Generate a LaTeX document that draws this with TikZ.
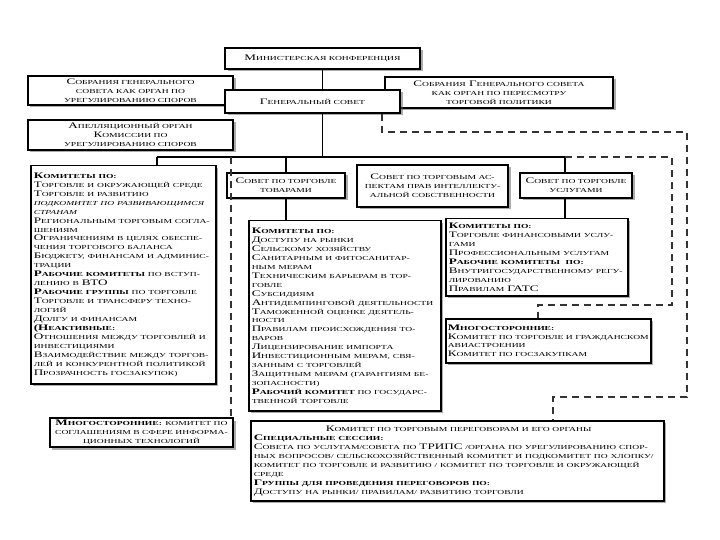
\documentclass[tikz,border=0pt]{standalone}
\usepackage{fontspec}
\setmainfont{Liberation Serif}[FakeStretch=1.55]
\usetikzlibrary{positioning, calc, shadows}

% fake small caps for the slide text
\newcommand{\sct}[1]{{\fontsize{6.2}{9}\selectfont\MakeUppercase{#1}}}

\tikzset{
  wto/.style={draw, line width=1.5bp, fill=white, inner sep=2bp,
    font=\fontsize{8.5}{9}\selectfont,
    drop shadow={shadow xshift=2.5bp, shadow yshift=-2.5bp, fill=black!65}},
  orgbox/.style={wto, align=center},
  listbox/.style={wto, anchor=north west, align=left, inner xsep=3bp},
  link/.style={line width=1.9bp},
  dashlink/.style={draw=black!80, line width=1.7bp, dash pattern=on 7bp off 5bp},
}

\begin{document}
\begin{tikzpicture}[x=1bp, y=-1bp]
\useasboundingbox (0,0) rectangle (720,540);

% top level
\node[orgbox, minimum width=195bp, minimum height=21bp] (conf) at (322.5,58.5)
  {М\sct{инистерская конференция}};
\node[orgbox, minimum width=205bp, minimum height=29bp, inner sep=1bp] (dsb) at (130.5,90.5)
  {С\sct{обрания генерального}\\\sct{совета как орган по}\\\sct{урегулированию споров}};
\node[orgbox, minimum width=205bp, minimum height=30bp, inner sep=1bp] (appel) at (130.5,135)
  {А\sct{пелляционный орган}\\К\sct{омиссии по}\\\sct{урегулированию споров}};
\node[orgbox, minimum width=228bp, minimum height=31bp, inner sep=1bp] (tprb) at (499,92.5)
  {С\sct{обрания} Г\sct{енерального совета}\\\sct{как орган по пересмотру}\\\sct{торговой политики}};
\node[orgbox, minimum width=175bp, minimum height=23bp] (gc) at (312.5,101.5)
  {Г\sct{енеральный совет}};

% councils
\node[orgbox, minimum width=118bp, minimum height=25bp, inner sep=1bp] (goods) at (286,185.5)
  {С\sct{овет по торговле}\\\sct{товарами}};
\node[orgbox, minimum width=151bp, minimum height=42bp, inner sep=1bp] (trips) at (432.5,186)
  {С\sct{овет по торговым ас-}\\\sct{пектам прав интеллекту-}\\\sct{альной собственности}};
\node[orgbox, minimum width=112bp, minimum height=25bp, inner sep=1bp] (services) at (576,185.5)
  {С\sct{овет по торговле}\\\sct{услугами}};

% committees
\node[listbox, text width=179bp, minimum height=218bp] (comGen) at (30,165)
  {{\bfseries К\sct{омитеты по:}}\\
   Т\sct{орговле и окружающей среде}\\
   Т\sct{орговле и развитию}\\
   {\itshape\sct{подкомитет по развивающимся}}\\
   {\itshape\sct{странам}}\\
   Р\sct{егиональным торговым согла-}\\
   \sct{шениям}\\
   О\sct{граничениям в целях обеспе-}\\
   \sct{чения торгового баланса}\\
   Б\sct{юджету, финансам и админис-}\\
   \sct{трации}\\
   {\bfseries Р\sct{абочие комитеты}} \sct{по вступ-}\\
   \sct{лению в} ВТО\\
   {\bfseries Р\sct{абочие группы}} \sct{по торговле}\\
   Т\sct{орговле и трансферу техно-}\\
   \sct{логий}\\
   Д\sct{олгу и финансам}\\
   {\bfseries (Н\sct{еактивные:}}\\
   О\sct{тношения между торговлей и}\\
   \sct{инвестициями}\\
   В\sct{заимодействие между торгов-}\\
   \sct{лей и конкурентной политикой}\\
   П\sct{розрачность госзакупок)}};

\node[listbox, text width=186bp, minimum height=190bp] (comGoods) at (248,220)
  {{\bfseries К\sct{омитеты по:}}\\
   Д\sct{оступу на рынки}\\
   С\sct{ельскому хозяйству}\\
   С\sct{анитарным и фитосанитар-}\\
   \sct{ным мерам}\\
   Т\sct{ехническим барьерам в тор-}\\
   \sct{говле}\\
   С\sct{убсидиям}\\
   А\sct{нтидемпинговой деятельности}\\
   Т\sct{аможенной оценке деятель-}\\
   \sct{ности}\\
   П\sct{равилам происхождения то-}\\
   \sct{варов}\\
   Л\sct{ицензирование импорта}\\
   И\sct{нвестиционным мерам, свя-}\\
   \sct{занным с торговлей}\\
   З\sct{ащитным мерам (гарантиям бе-}\\
   \sct{зопасности)}\\
   {\bfseries Р\sct{абочий комитет}} \sct{по государс-}\\
   \sct{твенной торговле}};

\node[listbox, text width=176bp, minimum height=77bp] (comServ) at (445,218)
  {{\bfseries К\sct{омитеты по:}}\\
   Т\sct{орговле финансовыми услу-}\\
   \sct{гами}\\
   П\sct{рофессиональным услугам}\\
   {\bfseries Р\sct{абочие комитеты}\ \ \sct{по:}}\\
   В\sct{нутригосударственному регу-}\\
   \sct{лированию}\\
   П\sct{равилам} ГАТС};

\node[listbox, minimum width=205bp, minimum height=44bp, inner xsep=1bp] (multiR) at (445,318)
  {{\bfseries М\sct{ногосторонние:}}\\
   К\sct{омитет по торговле и гражданском}\\
   \sct{авиастроении}\\
   К\sct{омитет по госзакупкам}};

\node[orgbox, minimum width=183bp, minimum height=29bp, inner sep=1bp] (multiL) at (141.5,432.5)
  {{\bfseries М\sct{ногосторонние:}} \sct{комитет по}\\
   \sct{соглашениям в сфере информа-}\\
   \sct{ционных технологий}};

\node[listbox, text width=407bp, minimum height=80bp] (tnc) at (250,420)
  {\hspace*{72bp}К\sct{омитет по торговым переговорам и его органы}\\
   {\bfseries С\sct{пециальные сессии:}}\\
   С\sct{овета по услугам/совета по} ТРИПС \sct{/органа по урегулированию спор-}\\
   \sct{ных вопросов/ сельскохозяйственный комитет и подкомитет по хлопку/}\\
   \sct{комитет по торговле и развитию / комитет по торговле и окружающей}\\
   \sct{среде}\\
   {\bfseries Г\sct{руппы для проведения переговоров по:}}\\
   Д\sct{оступу на рынки/ правилам/ развитию торговли}};

% solid links
\coordinate (hubL) at (157,157);
\coordinate (hubR) at (565,157);
\draw[link] (conf.south) -- (conf.south |- gc.north);
\draw[link] (conf.south |- gc.south) -- (conf.south |- hubL);
\draw[link] (hubL) -- (hubR);
\draw[link] (hubL) -- (hubL |- comGen.north);
\draw[link] (goods.north |- hubL) -- (goods.north);
\draw[link] ($(trips.north)+(-12.5,0)$ |- hubL) -- ($(trips.north)+(-12.5,0)$);
\draw[link] (hubR) -- (hubR |- services.north);
\draw[link] (goods.south) -- (goods.south |- comGoods.north);
\draw[link] (hubR |- services.south) -- (hubR |- comServ.north);

% dashed links
\coordinate (gcDash) at ($(gc.south)+(69.5,0)$);
\coordinate (tncTurn) at (687,132);
\coordinate (tncIn) at (553,397);
\draw[dashlink] (gcDash) |- (tncTurn) |- (tncIn) -- (tncIn |- tnc.north);
\coordinate (multiTurn) at (672,157);
\coordinate (multiIn) at (538,305);
\draw[dashlink] (hubR) -- (multiTurn) |- (multiIn) -- (multiIn |- multiR.north);
\coordinate (leftDash) at (231,157);
\draw[dashlink] (leftDash) -- (leftDash |- multiL.north);
\end{tikzpicture}
\end{document}
